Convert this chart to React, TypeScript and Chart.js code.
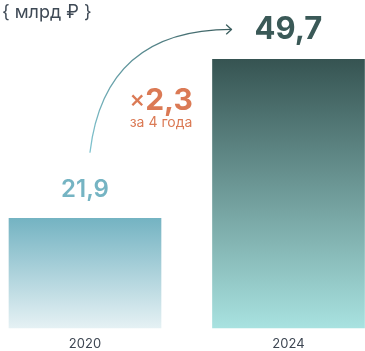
import { useEffect, useRef } from 'react';
import { Chart, registerables } from 'chart.js';

Chart.register(...registerables);

// Revenue, billions of rubles
const years = ['2020', '2024'];
const revenue = [21.9, 49.7];
const unitLabel = '{ млрд ₽ }';
// value axis range
const axisFloor = 2.7;
const axisCeil = 60.1;

const FONT = 'Inter, "Noto Sans", sans-serif';
const barTopColors = ['#74b3c2', '#365452'];
const barBottomColors = ['#e5f1f4', '#a8e2e0'];
const valueColors = ['#75b4c3', '#3a5957'];
const accent = '#db7a55';

const fmt = (v: number) => v.toFixed(1).replace('.', ',');

const annotations = {
  id: 'annotations',
  afterDatasetsDraw(chart: any) {
    const { ctx } = chart;
    const meta = chart.getDatasetMeta(0);
    const bars = meta.data as any[];
    if (bars.length < 2) return;
    const [b1, b2] = bars;
    ctx.save();

    // unit caption
    ctx.font = `400 18px ${FONT}`;
    ctx.fillStyle = '#3e4955';
    ctx.textAlign = 'left';
    ctx.textBaseline = 'alphabetic';
    ctx.fillText(unitLabel, 2, 18);

    // value labels above the bars
    ctx.textAlign = 'center';
    ctx.font = `600 24px ${FONT}`;
    ctx.fillStyle = valueColors[0];
    ctx.fillText(fmt(revenue[0]), b1.x, b1.y - 21);
    ctx.font = `700 31px ${FONT}`;
    ctx.fillStyle = valueColors[1];
    ctx.fillText(fmt(revenue[1]), b2.x, b2.y - 20);

    // growth arrow
    const sx = b1.x + 5;
    const sy = b1.y - 66;
    const ex = b2.x - b2.width / 2 + 19;
    const ey = b2.y - 30;
    const grad = ctx.createLinearGradient(sx, sy, ex, ey);
    grad.addColorStop(0, '#80c4d0');
    grad.addColorStop(1, '#3b5e5f');
    ctx.strokeStyle = grad;
    ctx.lineWidth = 1.3;
    ctx.lineCap = 'round';
    ctx.lineJoin = 'round';
    ctx.beginPath();
    ctx.moveTo(sx, sy);
    ctx.bezierCurveTo(sx + 10, sy - 84, sx + 60, ey, ex, ey);
    ctx.stroke();
    ctx.strokeStyle = '#3b5e5f';
    ctx.beginPath();
    ctx.moveTo(ex - 5, ey - 4.5);
    ctx.lineTo(ex, ey);
    ctx.lineTo(ex - 5, ey + 4.5);
    ctx.stroke();

    // growth multiplier
    const ratio = fmt(revenue[1] / revenue[0]);
    const cx = b1.x + b1.width / 2;
    const by = b1.y - 108;
    ctx.fillStyle = accent;
    ctx.font = `500 24px ${FONT}`;
    const wx = ctx.measureText('×').width;
    ctx.font = `700 30px ${FONT}`;
    const wr = ctx.measureText(ratio).width;
    const left = cx - (wx + wr) / 2;
    ctx.textAlign = 'left';
    ctx.font = `500 24px ${FONT}`;
    ctx.fillText('×', left, by - 3);
    ctx.font = `700 30px ${FONT}`;
    ctx.fillText(ratio, left + wx, by);
    ctx.textAlign = 'center';
    ctx.font = `400 14px ${FONT}`;
    const span = Number(years[1]) - Number(years[0]);
    ctx.fillText(`за ${span} года`, cx, by + 17);

    ctx.restore();
  },
};

export default function App() {
  const ref = useRef<HTMLCanvasElement>(null);

  useEffect(() => {
    if (!ref.current) return;
    const chart = new Chart(ref.current, {
      type: 'bar',
      data: {
        labels: years,
        datasets: [
          {
            data: revenue,
            base: axisFloor,
            barThickness: 152,
            borderWidth: 0,
            clip: false as any,
            backgroundColor: (c: any) => {
              const ch = c.chart;
              const area = ch.chartArea;
              const i = c.dataIndex ?? 0;
              if (!area) return barTopColors[i];
              const y = ch.scales.y;
              const top = y.getPixelForValue(revenue[i]);
              const bottom = y.getPixelForValue(axisFloor);
              const g = ch.ctx.createLinearGradient(0, top, 0, bottom);
              g.addColorStop(0, barTopColors[i]);
              g.addColorStop(1, barBottomColors[i]);
              return g;
            },
          } as any,
        ],
      },
      options: {
        animation: false,
        responsive: false,
        maintainAspectRatio: false,
        layout: { padding: { left: 85, right: 76.5, top: 0, bottom: -8.5 } },
        plugins: { legend: { display: false }, tooltip: { enabled: false } },
        scales: {
          x: {
            offset: false,
            grid: { display: false, drawTicks: false },
            border: { display: false },
            ticks: {
              padding: 8,
              color: '#3d4652',
              font: { family: FONT, size: 13 },
              maxRotation: 0,
            },
          },
          y: { display: false, min: axisFloor, max: axisCeil },
        },
      },
      plugins: [annotations],
    });
    return () => chart.destroy();
  }, []);

  return (
    <div style={{ position: 'fixed', left: 0, top: 0, width: 365, height: 351, background: '#fff' }}>
      <canvas ref={ref} width={365} height={351} />
    </div>
  );
}
